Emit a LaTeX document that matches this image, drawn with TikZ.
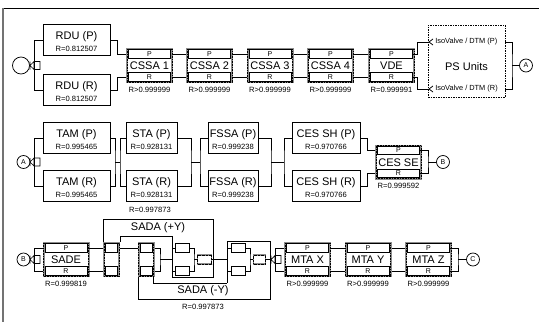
\documentclass[tikz,border=0pt]{standalone}
\usepackage{fontspec}
\setmainfont{Liberation Sans}
\begin{document}
\begin{tikzpicture}[x=1pt,y=-1pt,line width=0.75pt]
\tikzset{
 ttl/.style={font=\fontsize{11}{12}\selectfont, inner sep=0pt},
 rl/.style={font=\fontsize{7.6}{9}\selectfont, inner sep=0pt},
 iso/.style={font=\fontsize{7.4}{9}\selectfont, inner sep=0pt},
 pblk/.style={draw, line width=0.7pt, minimum height=31pt, inner sep=0pt, fill=white},
 fblk/.style={draw=black!45, line width=2pt, minimum width=45pt, minimum height=33pt, inner sep=0pt, fill=white,
   postaction={draw=black, line width=0.8pt, dash pattern=on 0.8pt off 0.8pt}},
 subb/.style={draw, line width=0.6pt, fill=white, minimum width=42pt, minimum height=8.5pt, inner sep=0pt, font=\fontsize{7}{7}\selectfont},
 smb/.style={draw, line width=0.6pt, fill=white, minimum width=14pt, minimum height=9pt, inner sep=0pt},
 hsm/.style={draw=black!45, line width=1.4pt, fill=white, minimum width=14pt, minimum height=9pt, inner sep=0pt,
   postaction={draw=black, line width=0.6pt, dash pattern=on 0.7pt off 0.7pt}},
 cir/.style={draw, circle, line width=0.75pt, inner sep=0pt, minimum size=13pt, font=\fontsize{7}{8}\selectfont, fill=white},
 psb/.style={draw, line width=0.75pt, dash pattern=on 1.5pt off 1pt, minimum width=77pt, minimum height=72pt, inner sep=0pt},
 splitsym/.pic={\draw[line width=0.7pt] (0,-4)--(0,4) (0,0)--(4,-4) (0,0)--(4,4) (4,-4) rectangle (10,4);}
}
\newcommand\pbk[6]{% name cx cy width title label
 \node[pblk, minimum width=#4pt] (#1) at (#2,#3) {};
 \node[ttl] (#1t) at (#2,{#3-3.5}) {#5};
 \node[rl] (#1l) at (#2,{#3+9}) {#6};
}
\newcommand\fbk[5]{% name cx cy title label
 \node[fblk] (#1) at (#2,#3) {};
 \node[subb] (#1p) at (#2,{#3-11.5}) {P};
 \node[subb] (#1r) at (#2,{#3+11.5}) {R};
 \node[ttl] (#1t) at (#2,{#3+0.5}) {#4};
 \node[rl] (#1l) at (#2,{#3+24}) {#5};
}
\newcommand\gbk[3]{% name cx cy
 \node[fblk, minimum width=15pt] (#1) at (#2,#3) {};
 \node[smb, minimum width=12pt] (#1p) at (#2,{#3-11.5}) {};
 \node[smb, minimum width=12pt] (#1r) at (#2,{#3+11.5}) {};
}
\useasboundingbox (0,0) rectangle (539,322);
% frame
\draw[line width=1pt] (3,8) -- (539,8);
\draw[black!55, line width=1.8pt] (3,8) -- (3,322);

% ---------------- Row 1 ----------------
\coordinate (b1) at (34,65.5);
\draw (b1) |- (43,40) (b1) |- (43,90);
\pbk{rdup}{76.5}{40}{67}{RDU (P)}{R=0.812507}
\pbk{rdur}{76.5}{90}{67}{RDU (R)}{R=0.812507}
\node[cir, minimum size=17pt] (s0) at (21,65.5) {};
\pic at (30,65.5) {splitsym};
\draw (rdup.east) -- ++(7,0) |- (149.5,54);
\draw (rdur.east) -- ++(7,0) |- (149.5,77);
\draw (149.5,54) -- (391.5,54);
\draw (149.5,77) -- (391.5,77);
\fbk{cssa1}{149.5}{65.5}{CSSA 1}{R>0.999999}
\fbk{cssa2}{209.5}{65.5}{CSSA 2}{R>0.999999}
\fbk{cssa3}{270}{65.5}{CSSA 3}{R>0.999999}
\fbk{cssa4}{330.5}{65.5}{CSSA 4}{R>0.999999}
\fbk{vde}{391.5}{65.5}{VDE}{R=0.999991}
\coordinate (psin1) at (428,42);
\coordinate (psin2) at (428,89);
\draw (vdep.east) -- ++(5,0) |- (psin1);
\draw (vder.east) -- ++(5,0) |- (psin2);
\node[psb] (ps) at (466.5,61) {};
\node[ttl] (pst) at (466.5,66.5) {PS Units};
\node[iso, anchor=west] (iso1) at (435,42) {IsoValve / DTM (P)};
\node[iso, anchor=west] (iso2) at (435,89) {IsoValve / DTM (R)};
\draw (433,39) -- (429,42) -- (433,45);
\draw (433,86) -- (429,89) -- (433,92);
\coordinate (po) at (512,65.5);
\draw (505,42) -| (po) |- (505,89);
\node[cir] (ca) at (526,65.5) {A};
\draw (po) -- (ca);

% ---------------- Row 2 ----------------
\coordinate (b2) at (34,162);
\draw (b2) |- (43,138) (b2) |- (43,186);
\node[cir] (ca2) at (23.5,162) {A};
\pic at (30,162) {splitsym};
\pbk{tamp}{76.5}{138}{67}{TAM (P)}{R=0.995465}
\pbk{tamr}{76.5}{186}{67}{TAM (R)}{R=0.995465}
\pbk{stap}{151.5}{138}{51}{STA (P)}{R=0.928131}
\pbk{star}{151.5}{186}{51}{STA (R)}{R=0.928131}
\pbk{fssap}{233}{138}{50}{FSSA (P)}{R=0.999238}
\pbk{fssar}{233}{186}{50}{FSSA (R)}{R=0.999238}
\pbk{cesshp}{326}{138}{68}{CES SH (P)}{R=0.970766}
\pbk{cesshr}{326}{186}{68}{CES SH (R)}{R=0.970766}
\coordinate (t1) at (115,162); \coordinate (t2) at (120,162);
\draw (tamp.east) -| (t1) |- (tamr.east); \draw (t1) -- (t2);
\draw (stap.west) -| (t2) |- (star.west);
\coordinate (s1) at (191,162); \coordinate (s2) at (200,162);
\draw (stap.east) -| (s1) |- (star.east); \draw (s1) -- (s2);
\draw (fssap.west) -| (s2) |- (fssar.west);
\coordinate (f1) at (271,162); \coordinate (f2) at (284,162);
\draw (fssap.east) -| (f1) |- (fssar.east); \draw (f1) -- (f2);
\draw (cesshp.west) -| (f2) |- (cesshr.west);
\draw (cesshp.east) -- ++(7,0) |- (398.5,150.5);
\draw (cesshr.east) -- ++(7,0) |- (398.5,173.5);
\fbk{cesse}{398.5}{162}{CES SE}{R=0.999592}
\coordinate (c1) at (428,162);
\draw (cessep.east) -| (c1) |- (cesser.east);
\node[cir] (cb) at (443,162) {B};
\draw (c1) -- (cb);
\node[rl] (r2tot) at (150,210) {R=0.997873};

% ---------------- Row 3 ----------------
\coordinate (b3) at (34,259.5);
\draw (b3) |- (45,248) (b3) |- (45,271);
\node[cir] (cb2) at (23.5,259.5) {B};
\pic at (30,259.5) {splitsym};
\fbk{sade}{66}{259.5}{SADE}{R=0.999819}
% SADA structure
\coordinate (yt) at (213,219);
\coordinate (g3tl) at (172,236);
\coordinate (g3bl) at (172,277);
\coordinate (g2o) at (160,259.5);
\coordinate (g3i) at (172,259.5);
\coordinate (g3o) at (194,259.5);
\coordinate (g4i) at (227,259.5);
\coordinate (g4tl) at (227,241);
\coordinate (g4bl) at (227,283);
\coordinate (yb) at (270,299);
\coordinate (g4o) at (250,259.5);
\coordinate (g4x) at (271,259.5);
\coordinate (b4) at (275,259.5);
\draw (sadep.east) -- (105,248);
\draw (sader.east) -- (105,271);
\draw (120,248) -- (139,248);
\draw (103,242) |- (yt) |- (g3bl);
\draw (120,242) |- (g3tl) -- (g3bl);
\draw (153,248) -| (g2o) |- (153,271);
\draw (g2o) -- (g3i);
\draw (153,277) |- (g4bl);
\draw (138,277) |- (yb) |- (g4tl) -- (g4bl);
\gbk{ga}{111.5}{259.5}
\gbk{gb}{146}{259.5}
\node[smb] (g3a) at (182,248) {};
\node[smb] (g3b) at (182,271) {};
\draw (g3bl |- g3a.west) -- (g3a.west);
\draw (g3bl |- g3b.west) -- (g3b.west);
\draw (g3a.east) -| (g3o) |- (g3b.east);
\node[hsm] (g3s) at (204.5,259.5) {};
\draw (g3o) -- (g3s.west);
\draw (g3s.east) -- (g4i);
\node[smb] (g4a) at (238.5,248) {};
\node[smb] (g4b) at (238.5,271) {};
\draw (g4bl |- g4a.west) -- (g4a.west);
\draw (g4bl |- g4b.west) -- (g4b.west);
\draw (g4a.east) -| (g4o) |- (g4b.east);
\node[hsm, minimum width=12pt] (g4s) at (259.5,259.5) {};
\draw (g4o) -- (g4s.west);
\draw (g4s.east) -- (g4x);
\pic at (271,259.5) {splitsym};
\draw (b4) |- (287,248) (b4) |- (287,271);
\node[ttl] (sadap) at (158,228) {SADA (+Y)};
\node[ttl] (sadam) at (203,291) {SADA (-Y)};
\node[rl] (r3tot) at (203,307) {R=0.997873};
\draw (307.5,248) -- (428.5,248);
\draw (307.5,271) -- (428.5,271);
\fbk{mtax}{307.5}{259.5}{MTA X}{R>0.999999}
\fbk{mtay}{368}{259.5}{MTA Y}{R>0.999999}
\fbk{mtaz}{428.5}{259.5}{MTA Z}{R>0.999999}
\coordinate (m1) at (458,259.5);
\draw (mtazp.east) -| (m1) |- (mtazr.east);
\node[cir] (cc) at (473,259.5) {C};
\draw (m1) -- (cc);
\end{tikzpicture}
\end{document}
